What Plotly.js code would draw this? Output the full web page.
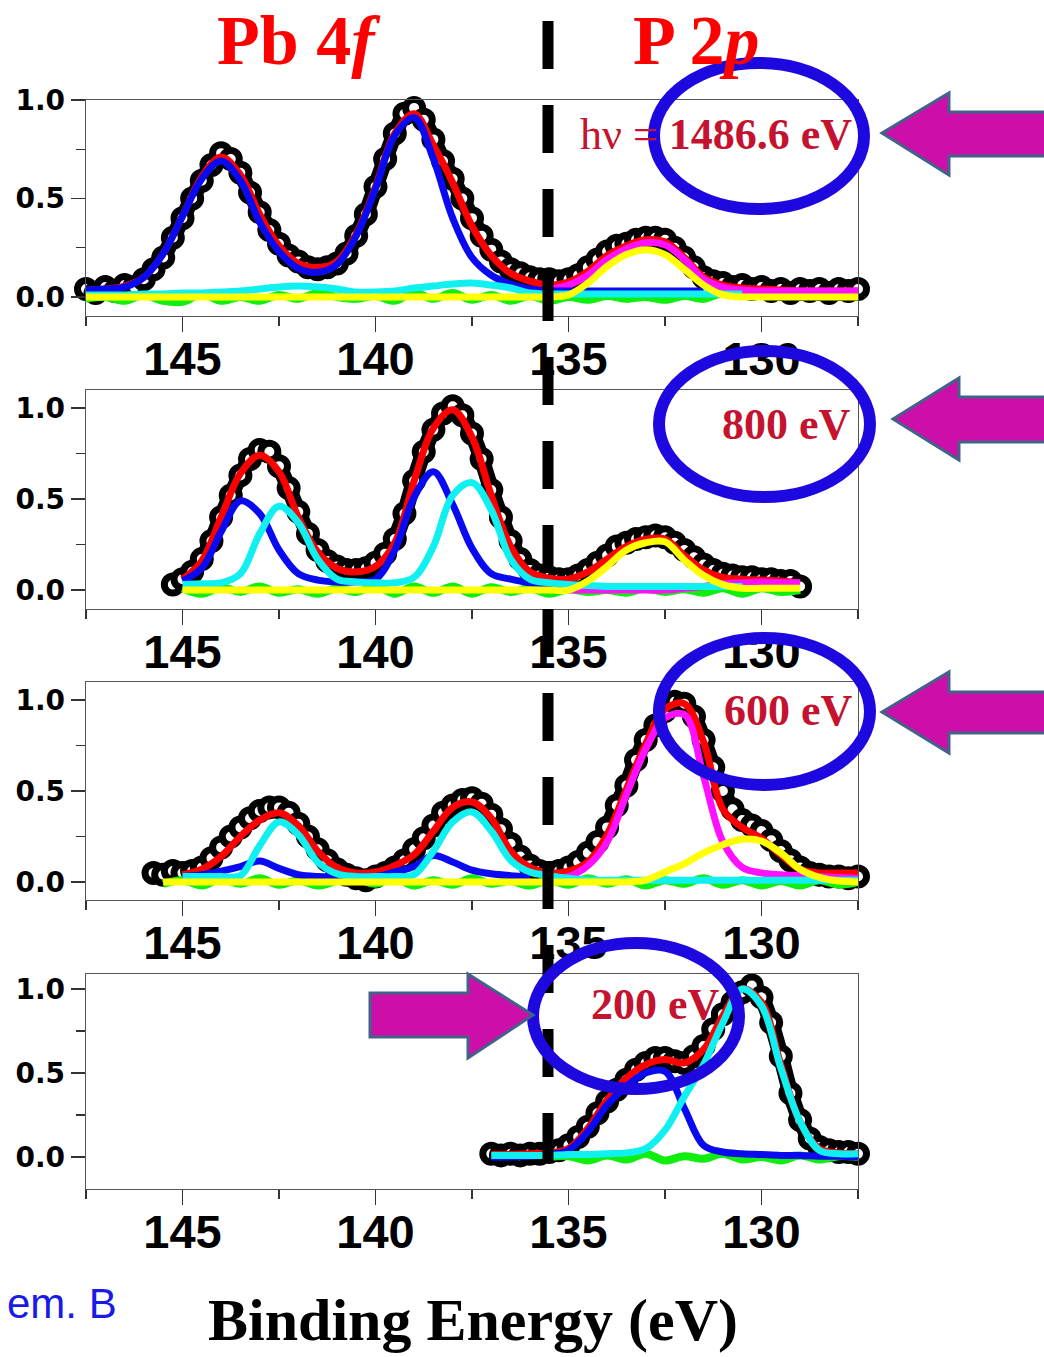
<!DOCTYPE html>
<html>
<head>
<meta charset="utf-8">
<script src="https://cdn.plot.ly/plotly-3.0.1.min.js"></script>
<style>html,body{margin:0;padding:0;background:#fff}</style>
</head>
<body>
<div id="chart" style="width:1044px;height:1357px"></div>
<script>
// Binding-energy grids (eV): fit curves every 0.5 eV, measured points every 0.25 eV
const FIT_E = [147.5,147,146.5,146,145.5,145,144.5,144,143.5,143,142.5,142,141.5,141,140.5,140,139.5,139,138.5,138,137.5,137,136.5,136,135.5,135,134.5,134,133.5,133,132.5,132,131.5,131,130.5,130,129.5,129,128.5,128,127.5];
const DATA_E = [147.5,147.25,147,146.75,146.5,146.25,146,145.75,145.5,145.25,145,144.75,144.5,144.25,144,143.75,143.5,143.25,143,142.75,142.5,142.25,142,141.75,141.5,141.25,141,140.75,140.5,140.25,140,139.75,139.5,139.25,139,138.75,138.5,138.25,138,137.75,137.5,137.25,137,136.75,136.5,136.25,136,135.75,135.5,135.25,135,134.75,134.5,134.25,134,133.75,133.5,133.25,133,132.75,132.5,132.25,132,131.75,131.5,131.25,131,130.75,130.5,130.25,130,129.75,129.5,129.25,129,128.75,128.5,128.25,128,127.75,127.5];

// Photon energies, one per panel (top to bottom)
const PHOTON_LABELS = ['1486.6 eV', '800 eV', '600 eV', '200 eV'];
const TICK_E = [145, 140, 135, 130];

// ---- hv = 1486.6 eV ----
const P1_DATA_START = 147.5;
const P1_DATA = [0.04,0.02,0.05,0.03,0.06,0.05,0.09,0.14,0.20,0.30,
  0.40,0.50,0.59,0.67,0.73,0.70,0.63,0.53,0.43,0.34,
  0.27,0.21,0.18,0.15,0.14,0.15,0.17,0.22,0.31,0.42,
  0.56,0.70,0.83,0.93,0.96,0.90,0.80,0.69,0.60,0.50,
  0.40,0.31,0.24,0.18,0.14,0.12,0.10,0.09,0.09,0.08,
  0.09,0.11,0.15,0.19,0.23,0.26,0.27,0.29,0.30,0.30,
  0.29,0.25,0.20,0.15,0.10,0.08,0.07,0.05,0.06,0.04,
  0.05,0.03,0.04,0.02,0.04,0.03,0.04,0.02,0.04,0.03,0.04];
const P1_RED = {start:147.5, y:[0.035,0.04,0.055,0.10,0.22,0.41,0.61,0.71,0.62,0.42,0.26,0.17,0.15,0.18,0.32,0.56,0.83,0.93,0.77,0.58,0.36,0.21,0.12,0.08,0.06,0.075,0.13,0.21,0.26,0.29,0.28,0.20,0.10,0.06,0.045,0.04,0.035,0.03,0.03,0.03,0.03]};
const P1_BLUE = {start:147.5, y:[0.035,0.04,0.05,0.10,0.22,0.41,0.60,0.69,0.59,0.38,0.23,0.145,0.125,0.165,0.31,0.55,0.82,0.91,0.70,0.40,0.20,0.11,0.065,0.04,0.03,0.03,0.03,0.03,0.03,0.03,0.03,0.03,0.03]};
const P1_CYAN = {start:147.5, y:[0.01,0.01,0.01,0.015,0.015,0.02,0.02,0.025,0.03,0.04,0.05,0.055,0.05,0.04,0.025,0.025,0.03,0.045,0.055,0.065,0.07,0.06,0.045,0.02,0.015,0.015,0.015,0.015,0.015,0.015,0.015,0.015,0.015,0.015,0.015]};
const P1_MAGENTA = {start:135.5, y:[0.04,0.06,0.11,0.19,0.245,0.275,0.265,0.19,0.09,0.05,0.035,0.03,0.03,0.03,0.03,0.03,0.03]};
const P1_YELLOW = {start:147.5, y:[0,0,0,0,0,0,0,0,0,0,0,0,0,0,0,0,0,0,0,0,0,0,0,0,0,0.01,0.07,0.155,0.215,0.24,0.215,0.14,0.06,0.01,0,0,0,0,0,0,0]};
const P1_GREEN = {start:147.5, y:[-0.01,0.0,-0.02,0.01,-0.02,-0.025,0.015,-0.02,0.0,-0.02,0.01,-0.01,0.02,0.0,-0.01,0.005,-0.02,0.02,-0.01,0.02,-0.015,0.01,-0.02,0.005,-0.02,0.0,-0.015,0.005,-0.01,0.0,-0.015,0.005,-0.01,0.02,0.015,0.02,0.01,0.025,0.015,0.02,0.02]};

// ---- hv = 800 eV ----
const P2_DATA_START = 145.25;
const P2_DATA = [0.03,0.06,0.10,0.17,0.27,0.40,0.52,0.63,0.72,0.77,
  0.76,0.68,0.56,0.43,0.31,0.22,0.16,0.13,0.11,0.11,
  0.12,0.15,0.20,0.28,0.42,0.60,0.76,0.88,0.97,1.01,
  0.96,0.86,0.72,0.55,0.40,0.27,0.17,0.11,0.08,0.07,
  0.06,0.06,0.08,0.11,0.15,0.19,0.24,0.26,0.28,0.29,
  0.30,0.29,0.26,0.22,0.18,0.14,0.11,0.09,0.08,0.07,
  0.07,0.06,0.06,0.05,0.05,0.02];
const P2_RED = {start:145, y:[0.06,0.16,0.40,0.64,0.74,0.65,0.40,0.21,0.12,0.10,0.13,0.26,0.60,0.89,0.99,0.84,0.52,0.24,0.10,0.065,0.06,0.10,0.17,0.24,0.28,0.28,0.19,0.11,0.07,0.06,0.055,0.05,0.04]};
const P2_BLUE = {start:145, y:[0.05,0.12,0.32,0.49,0.42,0.22,0.09,0.055,0.045,0.045,0.06,0.22,0.51,0.65,0.47,0.23,0.09,0.06,0.04,0.035,0.03]};
const P2_CYAN = {start:145, y:[0.03,0.035,0.04,0.09,0.31,0.46,0.37,0.17,0.06,0.045,0.04,0.04,0.07,0.24,0.52,0.59,0.44,0.17,0.06,0.04,0.03,0.025,0.02,0.02,0.02,0.02,0.02,0.02,0.02,0.02]};
const P2_MAGENTA = {start:135, y:[0,0,0,0,0,0,0.01,0.02,0.035,0.04,0.045,0.04,0.04]};
const P2_YELLOW = {start:145, y:[0,0,0,0,0,0,0,0,0,0,0,0,0,0,0,0,0,0,0,0,0,0.05,0.13,0.22,0.26,0.265,0.165,0.08,0.03,0.01,0.01,0.01,0.01]};
const P2_GREEN = {start:145, y:[0.01,-0.02,0.015,-0.01,0.02,-0.015,0.005,-0.02,0.01,-0.01,0.02,-0.02,0.02,-0.015,0.02,-0.02,0.015,-0.01,0.01,-0.02,0.005,-0.01,0.0,-0.015,0.01,-0.01,0.005,-0.015,0.01,-0.02,0.01,-0.01,0.0]};

// ---- hv = 600 eV ----
const P3_DATA_START = 145.75;
const P3_DATA = [0.05,0.04,0.06,0.05,0.06,0.08,0.13,0.19,0.25,0.30,
  0.35,0.39,0.41,0.41,0.38,0.32,0.25,0.18,0.12,0.07,
  0.04,0.02,0.01,0.03,0.05,0.08,0.12,0.18,0.24,0.31,
  0.38,0.42,0.45,0.46,0.43,0.37,0.29,0.21,0.14,0.09,
  0.06,0.05,0.06,0.08,0.11,0.16,0.22,0.30,0.42,0.53,
  0.67,0.78,0.86,0.94,0.99,0.98,0.91,0.78,0.63,0.50,
  0.40,0.34,0.31,0.28,0.23,0.17,0.12,0.08,0.05,0.04,
  0.03,0.03,0.02,0.03];
const P3_RED = {start:145, y:[0.04,0.07,0.14,0.25,0.34,0.38,0.31,0.17,0.08,0.05,0.055,0.09,0.15,0.28,0.41,0.44,0.35,0.17,0.08,0.05,0.06,0.11,0.26,0.51,0.76,0.95,0.98,0.77,0.40,0.30,0.24,0.15,0.07,0.05,0.05,0.05]};
const P3_BLUE = {start:145, y:[0.03,0.04,0.06,0.085,0.115,0.075,0.04,0.03,0.03,0.03,0.03,0.055,0.085,0.145,0.11,0.065,0.045,0.035,0.03]};
const P3_CYAN = {start:145, y:[0.03,0.03,0.03,0.035,0.20,0.33,0.26,0.11,0.045,0.03,0.03,0.03,0.04,0.17,0.33,0.385,0.28,0.12,0.055,0.035,0.02,0.01,0.01,0.01,0.01,0.01,0.01,0.01,0.01,0.01,0.01,0.01,0.01,0.01,0.01,0.01]};
const P3_MAGENTA = {start:135.5, y:[0.02,0.03,0.09,0.22,0.48,0.73,0.90,0.92,0.58,0.22,0.08,0.05,0.04,0.035,0.03,0.025,0.02]};
const P3_YELLOW = {start:145.5, y:[0,0,0,0,0,0,0,0,0,0,0,0,0,0,0,0,0,0,0,0,0,0,0,0,0,0.01,0.055,0.10,0.16,0.205,0.235,0.225,0.16,0.07,0.025,0.005,0]};
const P3_GREEN = {start:145.5, y:[-0.01,0.01,-0.02,0.015,-0.01,0.02,-0.015,0.01,-0.02,0.005,0.015,-0.01,0.02,-0.02,0.01,-0.015,0.02,-0.01,0.005,-0.02,0.01,-0.015,0.02,-0.01,0.015,-0.02,0.01,-0.01,0.02,-0.015,0.01,-0.02,0.005,-0.02,0.01,-0.015,0.0]};

// ---- hv = 200 eV ----
const P4_DATA_START = 137;
const P4_DATA = [0.02,0.01,0.02,0.01,0.02,0.02,0.03,0.04,0.07,0.12,
  0.18,0.26,0.33,0.40,0.46,0.52,0.56,0.59,0.59,0.57,
  0.56,0.60,0.66,0.76,0.85,0.92,0.98,1.02,0.95,0.80,
  0.60,0.38,0.22,0.11,0.06,0.04,0.03,0.03,0.02];
const P4_RED = {start:137, y:[0.015,0.015,0.02,0.025,0.05,0.17,0.34,0.47,0.55,0.58,0.56,0.64,0.84,1.0,0.92,0.55,0.21,0.05,0.025,0.02]};
const P4_BLUE = {start:137, y:[0.0,0.0,0.005,0.015,0.04,0.15,0.31,0.42,0.50,0.51,0.29,0.07,0.03,0.02,0.015,0.01,0.01,0.005,0.005,0.0]};
const P4_CYAN = {start:137, y:[0.01,0.01,0.01,0.01,0.015,0.015,0.02,0.025,0.05,0.16,0.36,0.55,0.80,1.0,0.90,0.53,0.21,0.04,0.02,0.02]};
const P4_GREEN = {start:135.5, y:[0.0,0.005,-0.02,0.01,-0.015,0.02,-0.02,0.005,-0.01,0.02,-0.015,0.0,-0.02,0.01,-0.015,0.005,0.0]};

// ---------------------------------------------------------------------------
const W = 1044, H = 1357;
const px = x => x / W;          // pixel -> paper x
const py = y => 1 - y / H;      // pixel -> paper y

function energies(grid, start, n) {
  const i = grid.indexOf(start);
  return grid.slice(i, i + n);
}

const COLORS = {
  red: '#ff0000', blue: '#0a0af0', cyan: '#10f0f0',
  magenta: '#ff10ff', yellow: '#ffff00', green: '#10ee10'
};

const PANELS = [
  {top:100, bottom:316, yrange:[-0.097, 1.0],  dataStart:P1_DATA_START, data:P1_DATA,
   fits:{green:P1_GREEN, red:P1_RED, magenta:P1_MAGENTA, blue:P1_BLUE, cyan:P1_CYAN, yellow:P1_YELLOW}},
  {top:390, bottom:609, yrange:[-0.104, 1.099], dataStart:P2_DATA_START, data:P2_DATA,
   fits:{green:P2_GREEN, red:P2_RED, magenta:P2_MAGENTA, blue:P2_BLUE, cyan:P2_CYAN, yellow:P2_YELLOW}},
  {top:682, bottom:900, yrange:[-0.099, 1.099], dataStart:P3_DATA_START, data:P3_DATA,
   fits:{green:P3_GREEN, red:P3_RED, magenta:P3_MAGENTA, blue:P3_BLUE, cyan:P3_CYAN, yellow:P3_YELLOW}},
  {top:974, bottom:1189, yrange:[-0.19, 1.089], dataStart:P4_DATA_START, data:P4_DATA,
   fits:{green:P4_GREEN, red:P4_RED, blue:P4_BLUE, cyan:P4_CYAN}}
];

const DRAW_ORDER = ['green', 'red', 'magenta', 'blue', 'cyan', 'yellow'];

const traces = [];
const layout = {
  width: W, height: H,
  margin: {l:0, r:0, t:0, b:0},
  paper_bgcolor: '#fff', plot_bgcolor: '#fff',
  showlegend: false,
  shapes: [], annotations: []
};

PANELS.forEach((p, k) => {
  const n = k === 0 ? '' : String(k + 1);
  const xa = 'x' + n, ya = 'y' + n;

  // measured spectrum: heavy, densely overlapping open circles
  traces.push({
    type: 'scatter', mode: 'lines+markers', xaxis: xa, yaxis: ya, cliponaxis: false,
    x: energies(DATA_E, p.dataStart, p.data.length), y: p.data,
    line: {color: '#000000', width: 16, shape: 'spline', smoothing: 0.6},
    marker: {symbol: 'circle', size: 17, color: '#ffffff', line: {color: '#000000', width: 7}}
  });
  // fitted envelope and components
  DRAW_ORDER.forEach(name => {
    const f = p.fits[name];
    if (!f) return;
    traces.push({
      type: 'scatter', mode: 'lines', xaxis: xa, yaxis: ya,
      x: energies(FIT_E, f.start, f.y.length), y: f.y,
      line: {color: COLORS[name], width: name === 'green' ? 8 : 7, shape: 'spline', smoothing: 1}
    });
  });

  layout['xaxis' + n] = {
    domain: [px(86), px(858)], anchor: ya, range: [147.5, 127.5],
    tickmode: 'array', tickvals: TICK_E, ticktext: TICK_E.map(String),
    ticks: 'outside', ticklen: 15, tickwidth: 1.3, tickcolor: '#333',
    ticklabelstandoff: -14,
    minor: {tickmode: 'linear', tick0: 0, dtick: 2.5, ticks: 'outside', ticklen: 9, tickwidth: 1.3, tickcolor: '#333'},
    showline: true, mirror: true, linecolor: '#555', linewidth: 1.3,
    showgrid: false, zeroline: false,
    tickfont: {family: 'Liberation Sans, Arial, sans-serif', size: 47, weight: 'bold', color: '#000'}
  };
  layout['yaxis' + n] = {
    domain: [py(p.bottom), py(p.top)], anchor: xa, range: p.yrange,
    tickmode: 'linear', tick0: 0, dtick: 0.5, tickformat: '.1f',
    ticks: 'outside', ticklen: 14, tickwidth: 1.3, tickcolor: '#333',
    minor: {tickmode: 'linear', tick0: 0, dtick: 0.25, ticks: 'outside', ticklen: 9, tickwidth: 1.3, tickcolor: '#333'},
    showline: true, mirror: true, linecolor: '#555', linewidth: 1.3,
    showgrid: false, zeroline: false,
    tickfont: {family: 'DejaVu Sans, sans-serif', size: 28, weight: 'bold', color: '#000'}
  };
});

// dashed separator between the Pb 4f and P 2p regions
layout.shapes.push({
  type: 'line', xref: 'paper', yref: 'paper', layer: 'above',
  x0: px(548), x1: px(548), y0: py(21), y1: py(1161),
  line: {color: '#000', width: 11, dash: '48px,36px'}
});

// rings around the photon-energy labels
const RINGS = [[654, 63, 864, 209], [659, 351, 870, 497], [659, 638, 870, 785], [533, 943, 739, 1089]];
RINGS.forEach(r => layout.shapes.push({
  type: 'circle', xref: 'paper', yref: 'paper', layer: 'above',
  x0: px(r[0]), x1: px(r[2]), y0: py(r[3]), y1: py(r[1]),
  line: {color: '#1d08e0', width: 12}, fillcolor: 'rgba(0,0,0,0)'
}));

// block arrows pointing at the rings
function arrowPath(pts) {
  return 'M ' + pts.map(q => px(q[0]).toFixed(5) + ',' + py(q[1]).toFixed(5)).join(' L ') + ' Z';
}
const ARROWS = [
  [[882,133],[949,93],[949,112],[1050,112],[1050,156],[949,156],[949,175]],
  [[893,419],[959,378],[959,397],[1050,397],[1050,442],[959,442],[959,460]],
  [[882,712],[949,672],[949,692],[1050,692],[1050,733],[949,733],[949,753]],
  [[533,1015],[468,974],[468,993],[370,993],[370,1037],[468,1037],[468,1058]]
];
ARROWS.forEach(a => layout.shapes.push({
  type: 'path', xref: 'paper', yref: 'paper', layer: 'above',
  path: arrowPath(a), fillcolor: '#cc0fa8', line: {color: '#43628a', width: 3}
}));

// text
const SERIF = 'Liberation Serif, Times New Roman, serif';
const LABEL_RED = '#c4122f';
function note(text, x, y, xanchor, font) {
  layout.annotations.push({
    text, xref: 'paper', yref: 'paper', x: px(x), y: py(y),
    xanchor, yanchor: 'middle', showarrow: false, borderpad: 0, font
  });
}
note('<b>Pb 4<i>f</i></b>', 216, 40, 'left', {family: SERIF, size: 70, color: '#ff0000'});
note('<b>P 2<i>p</i></b>', 632, 40, 'left', {family: SERIF, size: 70, color: '#ff0000'});
note('hν = <b>' + PHOTON_LABELS[0] + '</b>', 579, 134.5, 'left', {family: SERIF, size: 44, color: LABEL_RED});
note('<b>' + PHOTON_LABELS[1] + '</b>', 721, 424.5, 'left', {family: SERIF, size: 44, color: LABEL_RED});
note('<b>' + PHOTON_LABELS[2] + '</b>', 723, 710, 'left', {family: SERIF, size: 44, color: LABEL_RED});
note('<b>' + PHOTON_LABELS[3] + '</b>', 590, 1005, 'left', {family: SERIF, size: 44, color: LABEL_RED});
note('<b>Binding Energy (eV)</b>', 207, 1319.5, 'left', {family: SERIF, size: 60, color: '#000'});
note('em. B', 118, 1303, 'right', {family: 'Liberation Sans, Arial, sans-serif', size: 42, color: '#1a1ae6'});

Plotly.newPlot('chart', traces, layout, {staticPlot: true, displayModeBar: false});
</script>
</body>
</html>
